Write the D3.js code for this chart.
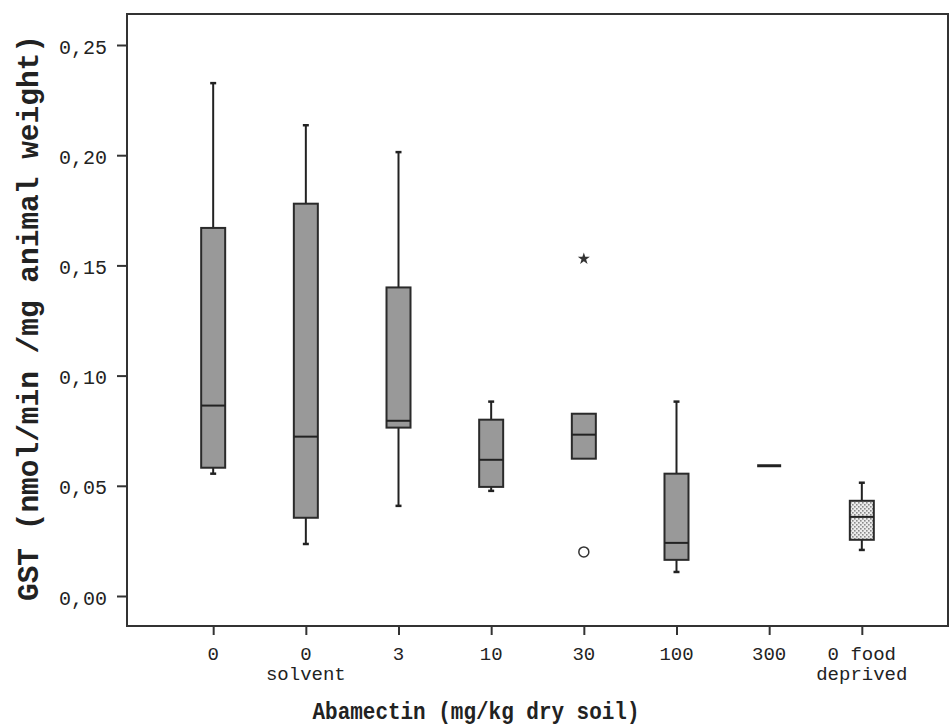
<!DOCTYPE html>
<html>
<head>
<meta charset="utf-8">
<script src="https://cdn.jsdelivr.net/npm/d3@7"></script>
<style>
  body { margin: 0; background: #fff; }
  text { font-family: "Liberation Mono", "Courier New", monospace; fill: #222; }
</style>
</head>
<body>
<div id="container"></div>
<script>
var width = 950,
    height = 727;

// groups on the x axis (two text lines each)
var groups = ["0", "0 solvent", "3", "10", "30", "100", "300", "0 food deprived"];
var labelTop = ["0", "0", "3", "10", "30", "100", "300", "0 food"];
var labelBottom = ["", "solvent", "", "", "", "", "", "deprived"];

// box plot values
var whiskerLow = [0.0555, 0.0236, 0.0409, 0.0477, 0.0623, 0.0109, 0.0591, 0.0209];
var q1 = [0.0582, 0.0355, 0.0764, 0.0495, 0.0623, 0.0164, 0.0591, 0.0255];
var median = [0.0864, 0.0723, 0.0795, 0.0618, 0.0732, 0.0241, 0.0591, 0.0359];
var q3 = [0.1670, 0.1780, 0.1400, 0.0800, 0.0827, 0.0555, 0.0591, 0.0432];
var whiskerHigh = [0.2327, 0.2136, 0.2014, 0.0882, 0.0827, 0.0882, 0.0591, 0.0514];
var patterned = [false, false, false, false, false, false, false, true];

var outlierGroup = ["30", "30"];
var outlierValue = [0.153, 0.020];
var outlierKind = ["extreme", "mild"];

var yTicks = [0, 0.05, 0.10, 0.15, 0.20, 0.25];

var svg = d3.select("#container").append("svg")
    .attr("width", width)
    .attr("height", height);

var pLeft = 127, pRight = 948, pTop = 14, pBottom = 626;

var x = d3.scalePoint()
    .domain(groups)
    .range([pLeft, pRight])
    .padding(0.93);

var y = d3.scaleLinear()
    .domain([0, 0.25])
    .range([596, 45]);

// dotted fill for the food deprived box
var defs = svg.append("defs");
var pat = defs.append("pattern")
    .attr("id", "dots")
    .attr("width", 4)
    .attr("height", 4)
    .attr("patternUnits", "userSpaceOnUse");
pat.append("rect").attr("width", 4).attr("height", 4).attr("fill", "#ececec");
pat.append("rect").attr("x", 0).attr("y", 0).attr("width", 1.6).attr("height", 1.6).attr("fill", "#8a8a8a");
pat.append("rect").attr("x", 2).attr("y", 2).attr("width", 1.6).attr("height", 1.6).attr("fill", "#8a8a8a");

// frame
svg.append("rect")
    .attr("x", pLeft)
    .attr("y", pTop)
    .attr("width", pRight - pLeft)
    .attr("height", pBottom - pTop)
    .attr("fill", "none")
    .attr("stroke", "#333")
    .attr("stroke-width", 2);

// y axis
var yAxis = svg.append("g")
    .attr("transform", "translate(" + pLeft + ",0)")
    .call(d3.axisLeft(y).tickValues(yTicks).tickSize(10).tickPadding(10)
        .tickFormat(d => d3.format(".2f")(d).replace(".", ",")));
yAxis.select(".domain").remove();
yAxis.selectAll("line").attr("stroke", "#333").attr("stroke-width", 2);
yAxis.selectAll("text")
    .attr("font-size", 20)
    .attr("font-family", "Liberation Mono, monospace")
    .attr("fill", "#222")
    .attr("dy", "0.4em");

// x axis
var xAxis = svg.append("g")
    .attr("transform", "translate(0," + pBottom + ")")
    .call(d3.axisBottom(x).tickSize(9).tickFormat(""));
xAxis.select(".domain").remove();
xAxis.selectAll("line").attr("stroke", "#333").attr("stroke-width", 2);

svg.selectAll(".lab1")
    .data(groups)
    .enter().append("text")
    .attr("class", "lab1")
    .attr("x", d => x(d))
    .attr("y", 660)
    .attr("text-anchor", "middle")
    .attr("font-size", 19)
    .text((d, i) => labelTop[i]);

svg.selectAll(".lab2")
    .data(groups)
    .enter().append("text")
    .attr("class", "lab2")
    .attr("x", d => x(d))
    .attr("y", 680)
    .attr("text-anchor", "middle")
    .attr("font-size", 19)
    .text((d, i) => labelBottom[i]);

// boxes
var bw = 24;
var box = svg.selectAll(".box")
    .data(groups)
    .enter().append("g")
    .attr("class", "box");

box.append("line")
    .attr("x1", d => x(d))
    .attr("x2", d => x(d))
    .attr("y1", (d, i) => y(whiskerHigh[i]))
    .attr("y2", (d, i) => y(q3[i]))
    .attr("stroke", "#222")
    .attr("stroke-width", 2);

box.append("line")
    .attr("x1", d => x(d))
    .attr("x2", d => x(d))
    .attr("y1", (d, i) => y(q1[i]))
    .attr("y2", (d, i) => y(whiskerLow[i]))
    .attr("stroke", "#222")
    .attr("stroke-width", 2);

box.filter((d, i) => whiskerHigh[i] > q3[i])
    .append("line")
    .attr("x1", d => x(d) - 3)
    .attr("x2", d => x(d) + 3)
    .attr("y1", d => y(whiskerHigh[groups.indexOf(d)]))
    .attr("y2", d => y(whiskerHigh[groups.indexOf(d)]))
    .attr("stroke", "#222")
    .attr("stroke-width", 2.5);

box.filter((d, i) => whiskerLow[i] < q1[i])
    .append("line")
    .attr("x1", d => x(d) - 3)
    .attr("x2", d => x(d) + 3)
    .attr("y1", d => y(whiskerLow[groups.indexOf(d)]))
    .attr("y2", d => y(whiskerLow[groups.indexOf(d)]))
    .attr("stroke", "#222")
    .attr("stroke-width", 2.5);

box.filter((d, i) => q3[i] > q1[i])
    .append("rect")
    .attr("x", d => x(d) - bw / 2)
    .attr("width", bw)
    .attr("y", d => y(q3[groups.indexOf(d)]))
    .attr("height", d => y(q1[groups.indexOf(d)]) - y(q3[groups.indexOf(d)]))
    .attr("fill", d => patterned[groups.indexOf(d)] ? "url(#dots)" : "#999")
    .attr("stroke", "#2a2a2a")
    .attr("stroke-width", 2);

box.append("line")
    .attr("x1", d => x(d) - bw / 2)
    .attr("x2", d => x(d) + bw / 2)
    .attr("y1", (d, i) => y(median[i]))
    .attr("y2", (d, i) => y(median[i]))
    .attr("stroke", "#222")
    .attr("stroke-width", (d, i) => q3[i] > q1[i] ? 2 : 3);

// outliers: star = extreme, circle = mild
var star = d3.symbol().type(d3.symbolStar).size(45);
outlierValue.forEach((v, i) => {
    if (outlierKind[i] == "extreme") {
        svg.append("path")
            .attr("d", star())
            .attr("transform", "translate(" + x(outlierGroup[i]) + "," + y(v) + ")")
            .attr("fill", "#333")
            .attr("stroke", "none");
    } else {
        svg.append("circle")
            .attr("cx", x(outlierGroup[i]))
            .attr("cy", y(v))
            .attr("r", 5)
            .attr("fill", "#fff")
            .attr("stroke", "#333")
            .attr("stroke-width", 1.5);
    }
});

// axis titles
svg.append("text")
    .attr("transform", "translate(38,318) rotate(-90)")
    .attr("text-anchor", "middle")
    .attr("font-size", 29)
    .attr("font-weight", "bold")
    .attr("textLength", 566)
    .attr("lengthAdjust", "spacingAndGlyphs")
    .text("GST (nmol/min /mg animal weight)");

svg.append("text")
    .attr("x", 476)
    .attr("y", 719)
    .attr("text-anchor", "middle")
    .attr("font-size", 24)
    .attr("font-weight", "bold")
    .attr("textLength", 327)
    .attr("lengthAdjust", "spacingAndGlyphs")
    .text("Abamectin (mg/kg dry soil)");
</script>
</body>
</html>
